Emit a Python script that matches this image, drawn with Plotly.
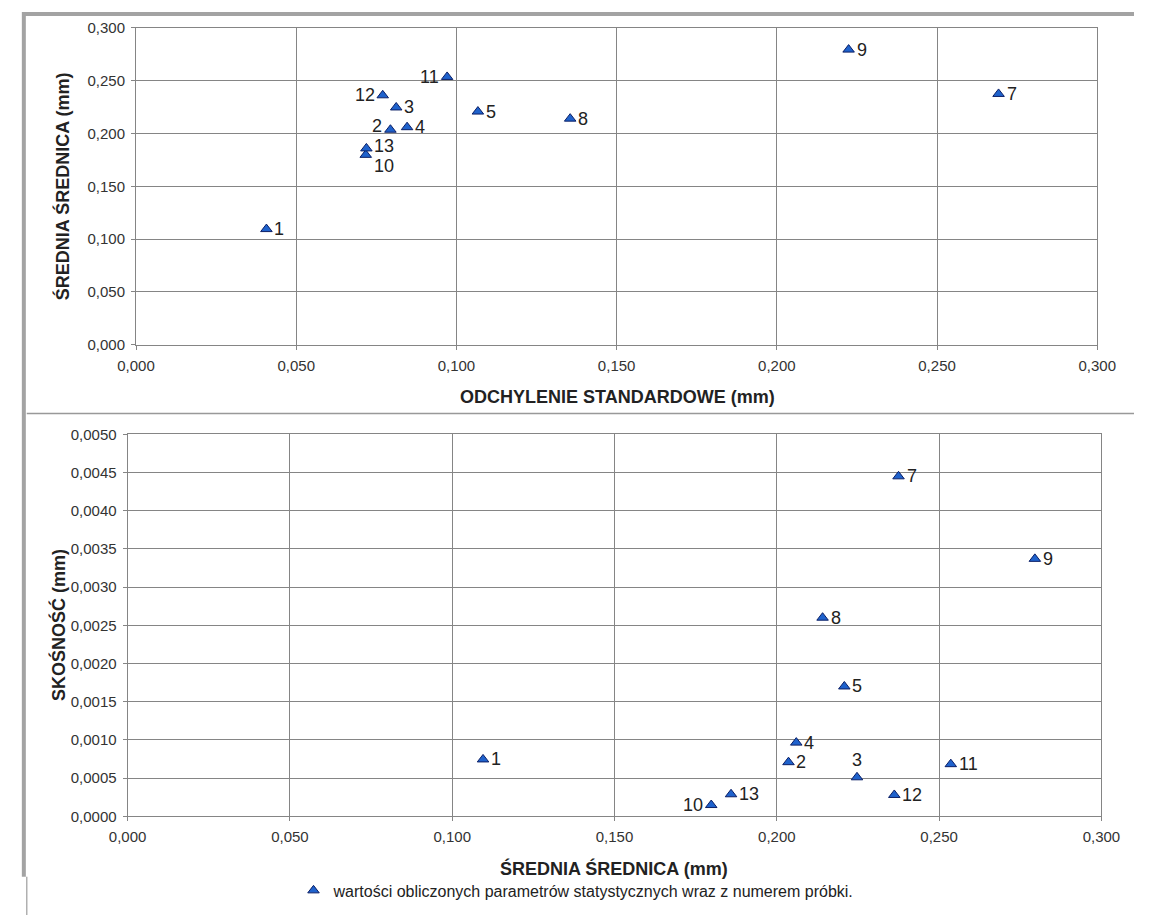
import plotly.graph_objects as go

# Sample numbers and their computed statistics
sample_no = [1, 2, 3, 4, 5, 7, 8, 9, 10, 11, 12, 13]
std_dev = [0.0407, 0.0794, 0.0812, 0.0846, 0.1067, 0.2692, 0.1355, 0.2224, 0.0717, 0.0971, 0.0770, 0.0719]
mean_diam = [0.1095, 0.2036, 0.2247, 0.2060, 0.2208, 0.2375, 0.2141, 0.2795, 0.1798, 0.2536, 0.2362, 0.1859]
skewness = [0.000745, 0.000709, 0.000511, 0.000965, 0.00170, 0.00445, 0.00260, 0.00337, 0.000148, 0.000683, 0.000280, 0.000289]

# Label placement per sample (r = right, l = left, t = above)
top_label_side = {1: "r", 2: "l", 3: "r", 4: "r", 5: "r", 7: "r", 8: "r", 9: "r", 10: "r", 11: "l", 12: "l", 13: "r"}
top_label_dy = {2: 4, 10: -11, 13: 2}
bottom_label_side = {1: "r", 2: "r", 3: "t", 4: "r", 5: "r", 7: "r", 8: "r", 9: "r", 10: "l", 11: "r", 12: "r", 13: "r"}

W, H = 1153, 923
FONT = "Arial, Liberation Sans, sans-serif"
GRID = "#858585"
TXT = "#222222"
MARKER = dict(symbol="triangle-up", size=10, color="#1f62cc", line=dict(color="#0b1f66", width=1))
LEGEND_TEXT = "wartości obliczonych parametrów statystycznych wraz z numerem próbki."


def px_x(p):
    return p / W


def px_y(p):
    return 1 - p / H


fig = go.Figure()
fig.add_trace(go.Scatter(x=std_dev, y=mean_diam, mode="markers", marker=MARKER,
                         xaxis="x", yaxis="y", showlegend=False, hoverinfo="skip"))
fig.add_trace(go.Scatter(x=mean_diam, y=skewness, mode="markers", marker=MARKER,
                         xaxis="x2", yaxis="y2", name=LEGEND_TEXT, showlegend=True, hoverinfo="skip"))

annotations = []


def point_label(xv, yv, n, side, dy, xref, yref):
    a = dict(x=xv, y=yv, xref=xref, yref=yref, text=str(n), showarrow=False,
             font=dict(family=FONT, size=18, color=TXT))
    if side == "r":
        a.update(xanchor="left", yanchor="middle", xshift=6, yshift=dy)
    elif side == "l":
        a.update(xanchor="right", yanchor="middle", xshift=-6, yshift=dy)
    else:
        a.update(xanchor="center", yanchor="bottom", yshift=5)
    return a


for n, sx, my in zip(sample_no, std_dev, mean_diam):
    annotations.append(point_label(sx, my, n, top_label_side[n], top_label_dy.get(n, 0), "x", "y"))
for n, mx, sk in zip(sample_no, mean_diam, skewness):
    annotations.append(point_label(mx, sk, n, bottom_label_side[n], 0, "x2", "y2"))

title_font = dict(family=FONT, size=18, color=TXT)
annotations += [
    dict(x=px_x(619), y=px_y(395), xref="paper", yref="paper", showarrow=False,
         text="<b>ODCHYLENIE STANDARDOWE (mm)</b>", font=title_font, xanchor="center", yanchor="middle"),
    dict(x=px_x(45), y=px_y(181), xref="paper", yref="paper", showarrow=False, textangle=-90,
         text="<b>ŚREDNIA ŚREDNICA (mm)</b>", font=title_font, xanchor="center", yanchor="middle"),
    dict(x=px_x(615), y=px_y(876), xref="paper", yref="paper", showarrow=False,
         text="<b>ŚREDNIA ŚREDNICA (mm)</b>", font=title_font, xanchor="center", yanchor="middle"),
    dict(x=px_x(41), y=px_y(628), xref="paper", yref="paper", showarrow=False, textangle=-90,
         text="<b>SKOŚNOŚĆ (mm)</b>", font=title_font, xanchor="center", yanchor="middle"),
]

axis_common = dict(showgrid=True, gridcolor=GRID, gridwidth=1, showline=True, linecolor=GRID,
                   linewidth=1, mirror=True, ticks="outside", ticklen=4, tickcolor=GRID,
                   zeroline=False, tickfont=dict(family=FONT, size=15, color="#333333"))

fig.update_layout(
    width=W, height=H,
    margin=dict(l=0, r=0, t=0, b=0),
    paper_bgcolor="white", plot_bgcolor="white",
    separators=", ",
    xaxis=dict(axis_common, domain=[px_x(121), px_x(1115)], range=[0, 0.3], dtick=0.05,
               tickformat=".3f", anchor="y", ticklabelstandoff=3),
    yaxis=dict(axis_common, domain=[px_y(342), px_y(19.3)], range=[0, 0.3], dtick=0.05,
               tickformat=".3f", anchor="x", ticklabelstandoff=3),
    xaxis2=dict(axis_common, domain=[px_x(112.3), px_x(1119.3)], range=[0, 0.3], dtick=0.05,
                tickformat=".3f", anchor="y2", ticklabelstandoff=3),
    yaxis2=dict(axis_common, domain=[px_y(822.5), px_y(433.3)], range=[0, 0.005], dtick=0.0005,
                tickformat=".4f", anchor="x2", ticklabelstandoff=3),
    annotations=annotations,
    showlegend=True,
    legend=dict(orientation="h", x=0.5, xanchor="center", y=px_y(898), yanchor="middle",
                font=dict(family=FONT, size=16, color=TXT), bgcolor="rgba(0,0,0,0)",
                itemwidth=30),
    shapes=[
        # outer frame: top edge and left edge
        dict(type="line", xref="paper", yref="paper", x0=px_x(5), x1=1, y0=px_y(5), y1=px_y(5),
             line=dict(color="#a3a3a3", width=4)),
        dict(type="line", xref="paper", yref="paper", x0=px_x(5), x1=px_x(5), y0=px_y(3), y1=px_y(884),
             line=dict(color="#a3a3a3", width=4)),
        dict(type="line", xref="paper", yref="paper", x0=px_x(8), x1=px_x(8), y0=px_y(884), y1=0,
             line=dict(color="#b0b0b0", width=1.5)),
        # divider between the two panels
        dict(type="line", xref="paper", yref="paper", x0=px_x(8), x1=1, y0=px_y(412), y1=px_y(412),
             line=dict(color="#999999", width=1.5)),
    ],
)

fig.write_html("out.html")
